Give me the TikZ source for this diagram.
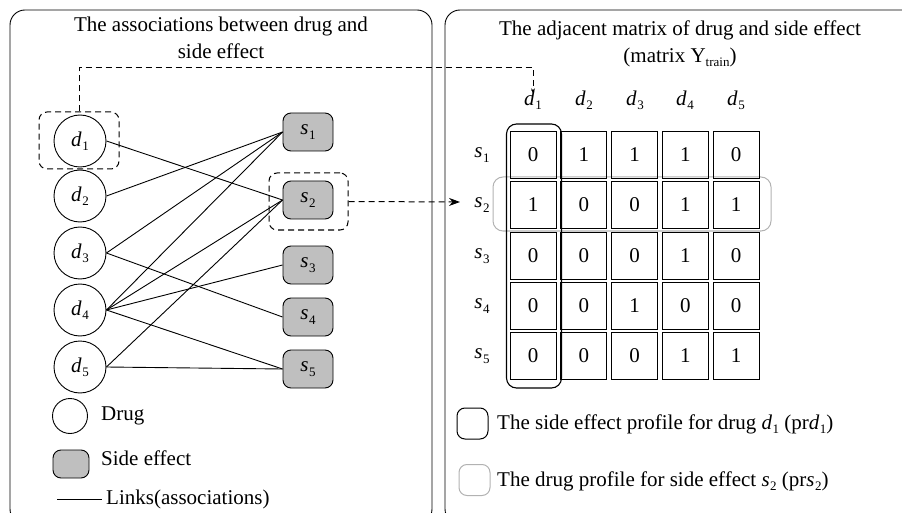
\documentclass[tikz,border=0pt]{standalone}
\usepackage{fontspec}
\setmainfont{Liberation Serif}
\usetikzlibrary{arrows.meta}
\newcommand\ix[2]{\textit{#1}\kern0.5pt\raisebox{-0.45ex}{\fontsize{13}{13}\selectfont #2}}
\begin{document}
\begin{tikzpicture}[x=1pt,y=-1pt,
  every node/.style={font=\fontsize{21}{27}\selectfont, inner sep=0pt},
  drug/.style={circle, draw, minimum size=52pt, line width=0.9pt},
  se/.style={rectangle, rounded corners=8pt, draw, fill=black!25, minimum width=50pt, minimum height=38pt, line width=0.9pt},
  link/.style={line width=0.9pt},
  cell/.style={draw, minimum width=46pt, minimum height=47pt, line width=1pt},
  dsh/.style={dash pattern=on 6pt off 4pt, line width=1pt},
  dbox/.style={draw, dsh, rounded corners=8pt},
  panel/.style={draw, rounded corners=15pt, line width=0.9pt},
  lab/.style={anchor=west}]
\useasboundingbox (0,0) rectangle (902,513);
\begin{scope}
  \clip (0,0) rectangle (902,513);
  \draw[panel] (10,10) rectangle (432,524);
  \draw[panel] (445,10) rectangle (918,524);
\end{scope}
% titles
\node[align=center] (t1) at (221,38) {The associations between drug and\\side effect};
\node[align=center] (t2) at (680,44) {The adjacent matrix of drug and side effect\\(matrix Y\raisebox{-0.45ex}{\fontsize{13}{13}\selectfont train})};
% drugs and side effects
\foreach \i/\y in {1/141,2/196,3/253,4/310,5/367}
  \node[drug] (d\i) at (80,\y) {\ix{d}{\i}};
\foreach \i/\y in {1/132,2/200,3/265,4/317,5/369}
  \node[se] (s\i) at (308,\y) {\ix{s}{\i}};
\foreach \a/\b in {2/1,3/1,4/1,1/2,4/2,5/2,4/3,3/4,4/5,5/5}
  \draw[link] (d\a.east) -- (s\b.west);
% dashed boxes
\node[dbox, minimum width=80pt, minimum height=57pt] (bd1) at (79,140.5) {};
\node[dbox, minimum width=79pt, minimum height=57pt] (bs2) at (308.5,201.5) {};
% matrix labels
\foreach \j/\x in {1/533,2/584,3/635,4/685,5/736}
  \node (cd\j) at (\x,100) {\ix{d}{\j}};
\foreach \i/\y in {1/155,2/205,3/256,4/306,5/356}
  \node (rs\i) at (482,\y) {\ix{s}{\i}};
% row highlight
\draw[black!30, line width=1pt, rounded corners=10pt] (493,177) rectangle (771,231);
% cells
\foreach \i/\y/\row in {1/155/{0,1,1,1,0},2/205/{1,0,0,1,1},3/256/{0,0,0,1,0},4/306/{0,0,1,0,0},5/356/{0,0,0,1,1}}{
  \foreach \v [count=\j] in \row {
    \pgfmathsetmacro\xx{533+50.75*(\j-1)}
    \node[cell] (m\i\j) at (\xx,\y) {\v};
  }
}
% column highlight
\draw[black, line width=1.1pt, rounded corners=10pt] (506.5,124) rectangle (561.5,388);
% dashed connectors
\coordinate (k1) at (533,68);
\draw[dsh, -{Stealth[length=5pt,width=4pt]}] (bd1.north) |- (k1) -- ([yshift=-3pt]cd1.north);
\coordinate (a2) at (460,202);
\draw[dsh, -{Stealth[length=11pt,width=8pt]}] (bs2.east) -- (a2);
% left legend
\node[draw, circle, minimum size=35pt, line width=0.9pt] (lc) at (70,416) {};
\node[lab] (lct) at (101,416) {Drug};
\node[draw, fill=black!25, rounded corners=8pt, minimum width=36pt, minimum height=28pt, line width=0.9pt] (lb) at (71,464) {};
\node[lab] (lbt) at (101,458) {Side effect};
\coordinate (l1) at (57,499);
\node[lab] (llt) at (106,499) {Links(associations)};
\draw[link] (l1) -- ([xshift=-4pt]llt.west);
% right legend
\node[draw, rounded corners=8pt, minimum size=31pt, line width=1pt] (lg1) at (472.5,423.5) {};
\node[lab] (lg1t) at (497,424) {The side effect profile for drug \ix{d}{1} (pr\ix{d}{1})};
\node[draw, black!30, rounded corners=8pt, minimum size=31pt, line width=1pt] (lg2) at (474.5,480) {};
\node[lab] (lg2t) at (497,481) {The drug profile for side effect \ix{s}{2} (pr\ix{s}{2})};
\end{tikzpicture}
\end{document}
